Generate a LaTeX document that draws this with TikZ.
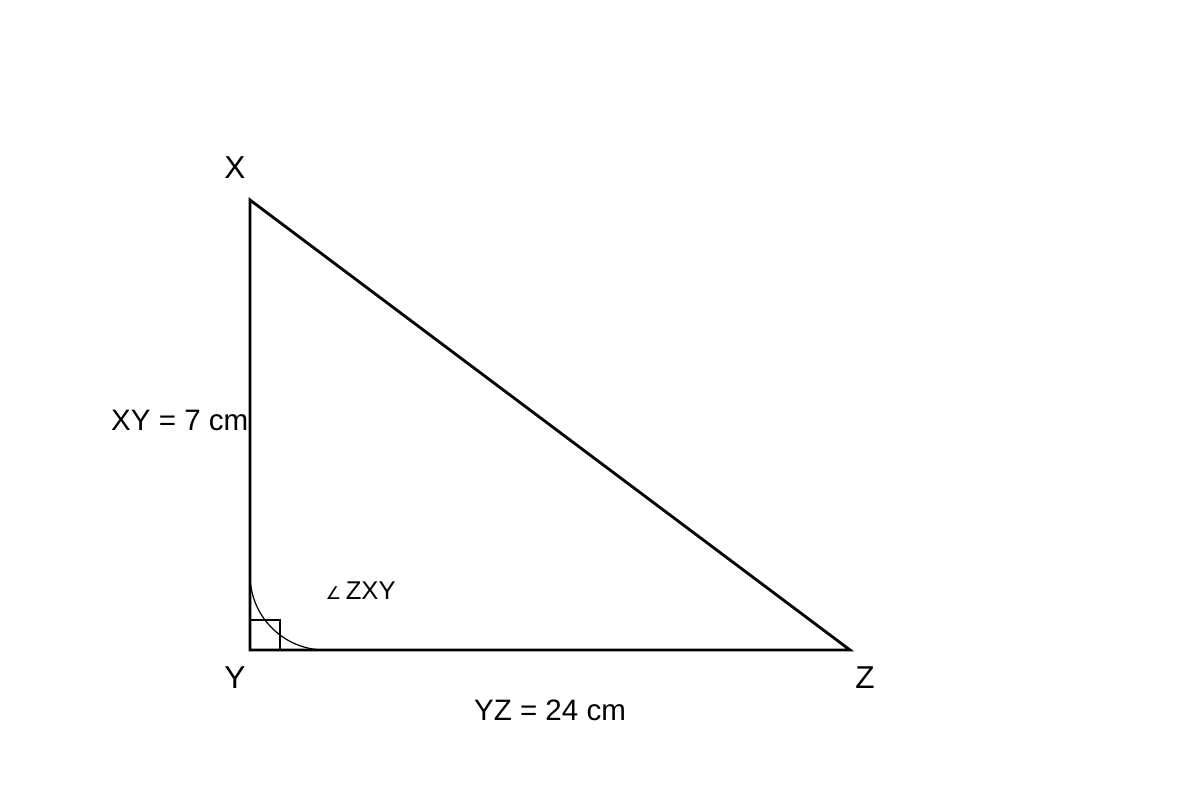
\documentclass[tikz,border=0pt]{standalone}
\usepackage{fontspec}
\setmainfont{Liberation Sans}
\newfontfamily\symfont{DejaVu Sans}
\usepackage{tikz}
\tikzstyle{side} = [line width=0.8pt, line join=miter]
\tikzstyle{arcline} = [line width=0.35pt]
\tikzstyle{vertex} = [font=\fontsize{9pt}{10pt}\selectfont, inner sep=0pt]
\tikzstyle{measure} = [font=\fontsize{8.4pt}{10pt}\selectfont, inner sep=0pt]
\tikzstyle{anglelabel} = [font=\fontsize{7.3pt}{8pt}\selectfont, inner sep=0pt, anchor=base west]

\begin{document}
\begin{tikzpicture}[x=0.01cm, y=-0.01cm]
	\useasboundingbox (0,0) rectangle (1200,800);

	\coordinate (X) at (250,200);
	\coordinate (Y) at (250,650);
	\coordinate (Z) at (850,650);

	\draw [side] (X) -- (Y) -- (Z) -- cycle;
	\draw [side] (Y) ++(0,-30) -- ++(30,0) -- ++(0,30);
	\draw [arcline] (Y) ++(0,-75) arc[start angle=180, end angle=90, radius=75];

	\node (labelX) [vertex] at (235,168) {X};
	\node (labelY) [vertex] at (235,678) {Y};
	\node (labelZ) [vertex] at (865,678) {Z};
	\node (sideXY) [measure, anchor=east] at (249,420) {XY = 7 cm};
	\node (sideYZ) [measure] at (550,710) {YZ = 24 cm};
	\node (angle) [anglelabel] at (325,599) {{\symfont\fontsize{5pt}{5pt}\selectfont ∠}\,ZXY};
\end{tikzpicture}
\end{document}
